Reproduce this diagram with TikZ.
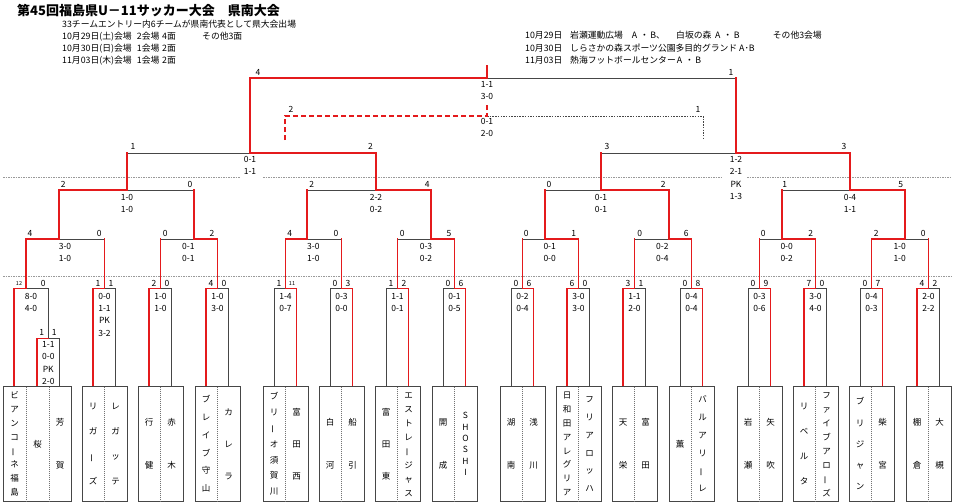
\documentclass[tikz,border=0pt]{standalone}
\usepackage{fontspec}
\newfontfamily\jp{Noto Sans CJK JP}
\definecolor{myred}{RGB}{228,26,28}
\definecolor{myblk}{RGB}{70,70,70}
\pgfdeclarelayer{bg}
\pgfdeclarelayer{bgpaper}
\pgfsetlayers{bgpaper,bg,main}
\tikzset{
 redln/.style={draw=myred,line width=1.8pt,line cap=rect},
 blkln/.style={draw=myblk,line width=0.8pt,line cap=rect},
 gridln/.style={draw=black!40,line width=0.6pt,dash pattern=on 1.5pt off 1pt},
 sc/.style={font=\jp\fontsize{8.5}{9}\selectfont,inner sep=0pt,text height=6.4pt,text depth=0pt},
 tinyl/.style={font=\jp\fontsize{5.5}{6}\selectfont,inner sep=0pt,text height=4.2pt,text depth=0pt},
 hd/.style={font=\jp\fontsize{8.8}{9}\selectfont,inner sep=0pt,text height=6.7pt,text depth=0pt,anchor=west},
 ttl/.style={font=\jp\bfseries\fontsize{13}{14}\selectfont,inner sep=0pt,text height=9.9pt,text depth=0pt,anchor=west},
 nm/.style={font=\jp\fontsize{8.5}{9}\selectfont,inner sep=0pt,text height=6.4pt,text depth=0pt},
 tbox/.style={draw=myblk,line width=0.8pt},
 sepln/.style={draw=black!55,line width=0.6pt,dash pattern=on 1pt off 1pt},
 dashred/.style={draw=myred,line width=1.8pt,dash pattern=on 5pt off 3pt},
 dotblk/.style={draw=myblk,line width=0.7pt,dash pattern=on 1.5pt off 1.2pt},
}
\newcommand\vb{\rotatebox[origin=c]{90}{ー}}
% match: id, y, xl, xc, xr, winner(l/r), yup
\newcommand\bm[7]{%
 \coordinate (#1-l) at (#3,#2);
 \coordinate (#1-c) at (#4,#2);
 \coordinate (#1-r) at (#5,#2);
 \coordinate (#1-u) at (#4,#7);
 \if#6l
   \begin{pgfonlayer}{bg}\draw[blkln] (#1-c) -- (#1-r);\end{pgfonlayer}
   \draw[redln] (#1-l) -- (#1-c) -- (#1-u);
 \else
   \begin{pgfonlayer}{bg}\draw[blkln] (#1-l) -- (#1-c);\end{pgfonlayer}
   \draw[redln] (#1-r) -- (#1-c) -- (#1-u);
 \fi}
% first round: id, L, winner, num a, num b, score1, score2
\newcommand\fr[7]{%
 \pgfmathsetmacro\frA{#2+11}\pgfmathsetmacro\frB{#2+22.5}\pgfmathsetmacro\frC{#2+33.5}%
 \bm{#1}{288.5}{\frA}{\frB}{\frC}{#3}{239}
 \coordinate (#1-bl) at (\frA,386.5);
 \coordinate (#1-br) at (\frC,386.5);
 \if#3l
   \draw[redln] (#1-l) -- (#1-bl);
   \begin{pgfonlayer}{bg}\draw[blkln] (#1-r) -- (#1-br);\end{pgfonlayer}
 \else
   \draw[redln] (#1-r) -- (#1-br);
   \begin{pgfonlayer}{bg}\draw[blkln] (#1-l) -- (#1-bl);\end{pgfonlayer}
 \fi
 \draw[tbox] (#2,386.5) rectangle ++(45,114.5);
 \draw[sepln] (\frB,386.5) -- ++(0,114.5);
 \node[sc] (#1-na) at ({#2+16},283) {#4};
 \node[sc] (#1-nb) at ({#2+29},283) {#5};
 \node[sc] (#1-s1) at (\frB,296) {#6};
 \node[sc] (#1-s2) at (\frB,308) {#7};}
% vertical name: id, x, n, spacing, list
\newcommand\vname[5]{%
 \foreach \ch [count=\i] in {#5}{%
   \node[nm] (#1-\i) at (#2,{444+(\i-(#3+1)/2)*#4}) {\ch};
 }}
% labels: id, y, xa, xb, a, b, s1, s2, xs
\newcommand\lbl[9]{%
 \node[sc] (#1-na) at (#3,#2) {#5};
 \node[sc] (#1-nb) at (#4,#2) {#6};
 \node[sc] (#1-s1) at (#9,{#2+12.5}) {#7};
 \node[sc] (#1-s2) at (#9,{#2+24.7}) {#8};}
\begin{document}
\begin{tikzpicture}[x=1pt,y=-1pt]
\useasboundingbox (0,0) rectangle (954,503);
\begin{pgfonlayer}{bgpaper}
\fill[white] (0,0) rectangle (954,503);
\end{pgfonlayer}
% header
\node[ttl] (title) at (17,10.7) {第45回福島県U－11サッカー大会　県南大会};
\node[hd] (h1) at (62,24.3) {33チームエントリー内6チームが県南代表として県大会出場};
\node[hd] (h2a) at (62,35.7) {10月29日(土)会場};
\node[hd] (h2b) at (136.7,35.7) {2会場};
\node[hd] (h2c) at (162,35.7) {4面};
\node[hd] (h2d) at (202,35.7) {その他3面};
\node[hd] (h3a) at (62,47.7) {10月30日(日)会場};
\node[hd] (h3b) at (136.7,47.7) {1会場};
\node[hd] (h3c) at (162,47.7) {2面};
\node[hd] (h4a) at (62,60) {11月03日(木)会場};
\node[hd] (h4b) at (136.7,60) {1会場};
\node[hd] (h4c) at (162,60) {2面};
\node[hd] (r1a) at (525,35.3) {10月29日};
\node[hd] (r1b) at (570,35.3) {岩瀬運動広場};
\node[hd] (r1c) at (631.7,35.3) {A\,\,・\,B、};
\node[hd] (r1d) at (676,35.3) {白坂の森};
\node[hd] (r1e) at (715,35.3) {A\,\,・\,B};
\node[hd] (r1f) at (772.7,35.3) {その他3会場};
\node[hd] (r2a) at (525,47.7) {10月30日};
\node[hd] (r2b) at (570,47.7) {しらさかの森スポーツ公園多目的グランド};
\node[hd] (r2c) at (739,47.7) {A･B};
\node[hd] (r3a) at (525,60) {11月03日};
\node[hd] (r3b) at (570,60) {熱海フットボールセンター};
\node[hd] (r3c) at (676.7,60) {A\,\,・\,B};
% grid lines
\draw[gridln] (3,177) -- (240,177);
\draw[gridln] (263,177) -- (721,177);
\draw[gridln] (747,177) -- (951,177);
\draw[gridln] (3,276) -- (951,276);
% final and semis
\bm{F}{78}{250}{487}{736}{l}{66}
\bm{S1}{153}{127}{250}{376}{r}{78}
\bm{S2}{153}{601}{736}{850}{r}{78}
\bm{Q1}{190}{59}{127}{194}{l}{153}
\bm{Q2}{190}{307}{376}{431}{r}{153}
\bm{Q3}{190}{545}{601}{669}{r}{153}
\bm{Q4}{190}{782}{850}{905}{r}{153}
\bm{R1}{239}{26}{59}{104.5}{l}{190}
\bm{R2}{239}{160.5}{194}{217.5}{r}{190}
\bm{R3}{239}{285.5}{307}{341.5}{l}{190}
\bm{R4}{239}{397.5}{431}{454.5}{r}{190}
\bm{R5}{239}{522.5}{545}{578.5}{r}{190}
\bm{R6}{239}{634.5}{669}{691.5}{r}{190}
\bm{R7}{239}{759.5}{782}{815.5}{r}{190}
\bm{R8}{239}{871.5}{905}{928.5}{l}{190}
% third place
\coordinate (T-l) at (285,140);
\coordinate (T-lt) at (285,116);
\coordinate (T-c) at (487,116);
\coordinate (T-u) at (487,103);
\coordinate (T-rt) at (703,116);
\coordinate (T-r) at (703,139);
\draw[dotblk] (T-c) -- (T-rt) -- (T-r);
\draw[dashred] (T-l) -- (T-lt) -- (T-c) -- (T-u);
% labels upper rounds
\node[sc] (F-na) at (258,72.3) {4};
\node[sc] (F-nb) at (731,72.3) {1};
\node[sc] (F-s1) at (487,84.5) {1-1};
\node[sc] (F-s2) at (487,96.7) {3-0};
\node[sc] (T-na) at (291,109.3) {2};
\node[sc] (T-nb) at (698,109.3) {1};
\node[sc] (T-s1) at (487,121.7) {0-1};
\node[sc] (T-s2) at (487,133.3) {2-0};
\lbl{S1}{146.7}{133}{370.5}{1}{2}{0-1}{1-1}{250}
\lbl{S2}{146.7}{607}{844}{3}{3}{1-2}{2-1}{736}
\node[sc] (S2-s3) at (736,184) {PK};
\node[sc] (S2-s4) at (736,196.5) {1-3};
\lbl{Q1}{184.3}{63.3}{190}{2}{0}{1-0}{1-0}{127}
\lbl{Q2}{184.3}{311.7}{427.3}{2}{4}{2-2}{0-2}{376}
\lbl{Q3}{184.3}{549}{663.3}{0}{2}{0-1}{0-1}{601}
\lbl{Q4}{184.3}{784.7}{900.7}{1}{5}{0-4}{1-1}{850}
\lbl{R1}{233.5}{30}{99.3}{4}{0}{3-0}{1-0}{65}
\lbl{R2}{233.5}{165.3}{212}{0}{2}{0-1}{0-1}{188.3}
\lbl{R3}{233.5}{289.7}{336}{4}{0}{3-0}{1-0}{313.3}
\lbl{R4}{233.5}{402.3}{449}{0}{5}{0-3}{0-2}{426}
\lbl{R5}{233.5}{526.3}{573.7}{0}{1}{0-1}{0-0}{549.7}
\lbl{R6}{233.5}{639.7}{686.3}{0}{6}{0-2}{0-4}{662.3}
\lbl{R7}{233.5}{763.3}{810.7}{0}{2}{0-0}{0-2}{786.7}
\lbl{R8}{233.5}{876.3}{923.3}{2}{0}{1-0}{1-0}{899.7}
% group 1 (three teams) with preliminary
\coordinate (G1-l) at (14,288.5);
\coordinate (G1-c) at (26,288.5);
\coordinate (G1-r) at (48,288.5);
\coordinate (G1-u) at (26,239);
\coordinate (G1-bl) at (14,386.5);
\coordinate (P-l) at (37,338.5);
\coordinate (P-c) at (48,338.5);
\coordinate (P-r) at (59,338.5);
\coordinate (P-bl) at (37,386.5);
\coordinate (P-br) at (59,386.5);
\begin{pgfonlayer}{bg}
\draw[blkln] (G1-c) -- (G1-r) -- (P-c) -- (P-r) -- (P-br);
\end{pgfonlayer}
\draw[redln] (G1-bl) -- (G1-l) -- (G1-c) -- (G1-u);
\draw[redln] (P-bl) -- (P-l) -- (P-c);
\draw[tbox] (3,386.5) rectangle (71,501);
\draw[sepln] (26,386.5) -- (26,501);
\draw[sepln] (49,386.5) -- (49,501);
\node[tinyl] (G1-na) at (19,283) {12};
\node[sc] (G1-nb) at (43.3,283) {0};
\node[sc] (G1-s1) at (31,296) {8-0};
\node[sc] (G1-s2) at (31,308) {4-0};
\node[sc] (P-na) at (41.7,332.5) {1};
\node[sc] (P-nb) at (54.3,332.5) {1};
\node[sc] (P-s1) at (48.3,344) {1-1};
\node[sc] (P-s2) at (48.3,356.5) {0-0};
\node[sc] (P-s3) at (48.3,369) {PK};
\node[sc] (P-s4) at (48.3,381) {2-0};
% first round
\fr{G2}{82}{l}{1}{1}{0-0}{1-1}
\node[sc] (G2-s3) at (104.5,320.5) {PK};
\node[sc] (G2-s4) at (104.5,333) {3-2};
\fr{G3}{138}{l}{2}{0}{1-0}{1-0}
\fr{G4}{195}{l}{4}{0}{1-0}{3-0}
\fr{G5}{263}{r}{1}{}{1-4}{0-7}
\node[tinyl] (G5-nc) at (292,283) {11};
\fr{G6}{319}{r}{0}{3}{0-3}{0-0}
\fr{G7}{375}{r}{1}{2}{1-1}{0-1}
\fr{G8}{432}{r}{0}{6}{0-1}{0-5}
\fr{G9}{500}{r}{0}{6}{0-2}{0-4}
\fr{G10}{556}{l}{6}{0}{3-0}{3-0}
\fr{G11}{612}{l}{3}{1}{1-1}{2-0}
\fr{G12}{669}{r}{0}{8}{0-4}{0-4}
\fr{G13}{737}{r}{0}{9}{0-3}{0-6}
\fr{G14}{793}{l}{7}{0}{3-0}{4-0}
\fr{G15}{849}{r}{0}{7}{0-4}{0-3}
\fr{G16}{906}{l}{4}{2}{2-0}{2-2}
% team names
\vname{t1}{14.5}{8}{13.8}{ビ,ア,ン,コ,\vb,ネ,福,島}
\vname{t2}{37.5}{1}{0}{桜}
\vname{t3}{60}{2}{43}{芳,賀}
\vname{t4}{93}{4}{25}{リ,ガ,\vb,ズ}
\vname{t5}{115.5}{4}{25}{レ,ガ,ッ,テ}
\vname{t6}{149}{2}{43}{行,健}
\vname{t7}{171.5}{2}{43}{赤,木}
\vname{t8}{206}{6}{17.8}{ブ,レ,イ,ブ,守,山}
\vname{t9}{228.5}{3}{32}{カ,レ,ラ}
\vname{t10}{274}{7}{15.8}{ブ,リ,\vb,オ,須,賀,川}
\vname{t11}{296.5}{3}{32}{富,田,西}
\vname{t12}{330}{2}{43}{白,河}
\vname{t13}{352.5}{2}{43}{船,引}
\vname{t14}{386}{3}{32}{富,田,東}
\vname{t15}{408.5}{8}{14}{エ,ス,ト,レ,\vb,ジ,ャ,ス}
\vname{t16}{443}{2}{43}{開,成}
\vname{t17}{465.5}{6}{11.4}{S,H,O,S,H,I}
\vname{t18}{511}{2}{43}{湖,南}
\vname{t19}{533.5}{2}{43}{浅,川}
\vname{t20}{567}{8}{13.8}{日,和,田,ア,レ,グ,リ,ア}
\vname{t21}{589.5}{6}{17.7}{フ,リ,ア,ロ,ッ,ハ}
\vname{t22}{623}{2}{43}{天,栄}
\vname{t23}{645.5}{2}{43}{富,田}
\vname{t24}{680}{1}{0}{薫}
\vname{t25}{702.5}{6}{17.7}{バ,ル,ア,リ,\vb,レ}
\vname{t26}{748}{2}{43}{岩,瀬}
\vname{t27}{770.5}{2}{43}{矢,吹}
\vname{t28}{804}{4}{25}{リ,ベ,ル,タ}
\vname{t29}{826.5}{8}{14}{フ,ァ,イ,ブ,ア,ロ,\vb,ズ}
\vname{t30}{860}{5}{21.2}{ブ,リ,ジ,ャ,ン}
\vname{t31}{882.5}{2}{43}{柴,宮}
\vname{t32}{917}{2}{43}{棚,倉}
\vname{t33}{939.5}{2}{43}{大,槻}
\end{tikzpicture}
\end{document}
